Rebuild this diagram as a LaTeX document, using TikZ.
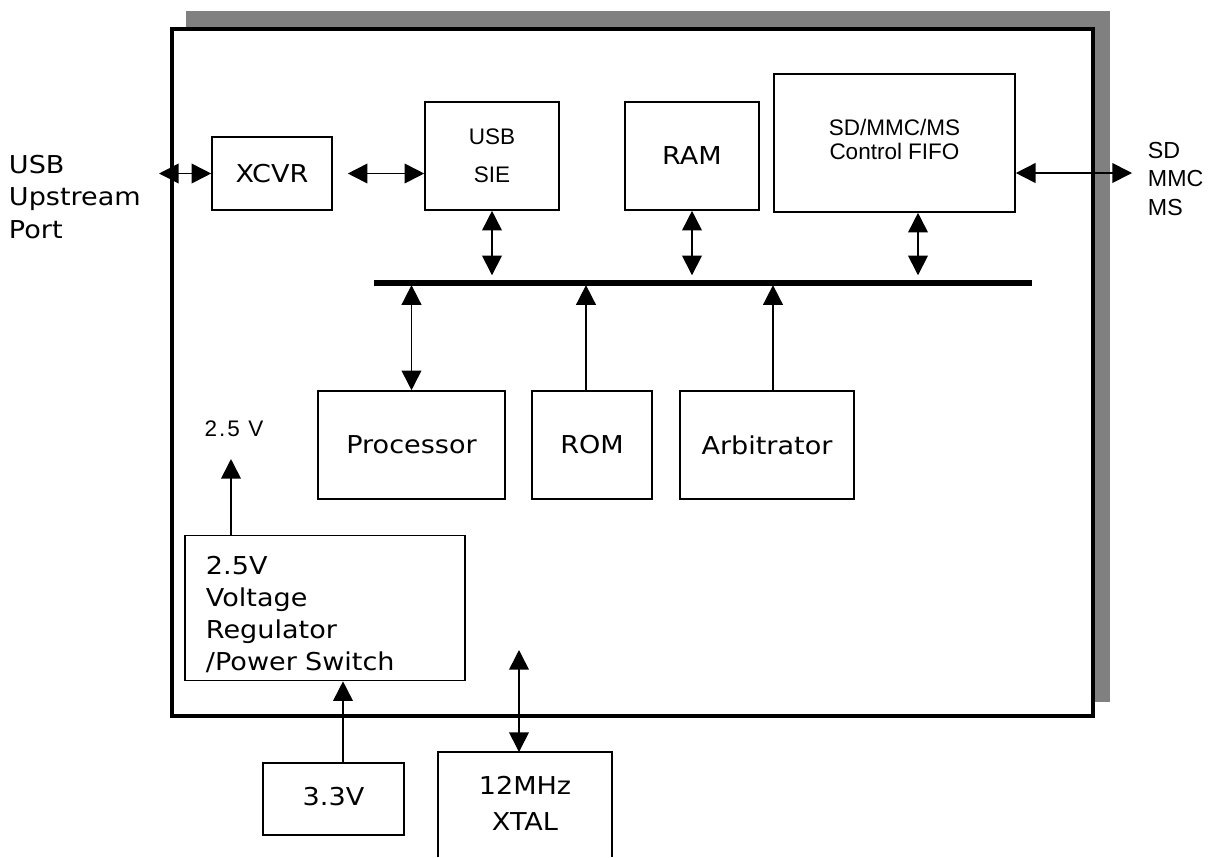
\documentclass[tikz,border=0pt]{standalone}
\usepackage{fontspec}
\usepackage{tikz}
\usetikzlibrary{arrows.meta, positioning, calc}
\newfontfamily\boxfont{DejaVu Sans}[FakeStretch=1.1]
\newfontfamily\labelfont{Liberation Sans}
\newfontfamily\spacedfont{Liberation Sans}[LetterSpace=9]
\definecolor{shadowgray}{RGB}{128,128,128}

\begin{document}
\begin{tikzpicture}[x=0.025cm,y=-0.025cm,
    >={Triangle[width=14pt,length=14pt]},
    block/.style={rectangle,draw,line width=1.1pt,inner sep=0pt,align=center,font=\boxfont\fontsize{17.5}{22.8}\selectfont},
    smallblock/.style={block,font=\labelfont\fontsize{16}{18}\selectfont},
    link/.style={line width=1.2pt}]
    \useasboundingbox (0,0) rectangle (1210,857);

    % Chip outline with shadow
    \fill[shadowgray] (186,11) rectangle (1110,702);
    \node[rectangle,draw,fill=white,line width=2.6pt,minimum width=23.025cm,minimum height=17.175cm] (chip) at (632.5,372.5) {};

    % Top row
    \node[block,minimum width=3.0cm,minimum height=1.825cm] (xcvr) at (272,173.5) {XCVR};
    \node[smallblock,minimum width=3.35cm,minimum height=2.7cm,font=\labelfont\fontsize{16}{27}\selectfont] (sie) at (492,156) {USB\\SIE};
    \node[block,minimum width=3.35cm,minimum height=2.7cm] (ram) at (692,156) {RAM};
    \node[smallblock,minimum width=6.025cm,minimum height=3.45cm,font=\labelfont\fontsize{16}{17.8}\selectfont] (fifo) at (894.5,143) {SD/MMC/MS\\[-1pt]Control FIFO\rule[-5pt]{0pt}{0pt}};

    % Bus
    \coordinate (busL) at (374,283);
    \coordinate (busR) at (1032,283);
    \draw[line width=3.6pt] (busL) -- (busR);

    % Bottom row
    \node[block,minimum width=4.675cm,minimum height=2.7cm] (proc) at (411.5,445) {Processor};
    \node[block,minimum width=3.0cm,minimum height=2.7cm] (rom) at (592,445) {ROM};
    \node[block,minimum width=4.35cm,minimum height=2.7cm] (arb) at (767,445) {Arbitrator};

    % Power
    \node[block,minimum width=7.0cm,minimum height=3.625cm,align=left,text width=5.95cm,inner xsep=0.525cm] (reg) at (325,608) {\rule{0pt}{22.5pt}2.5V\\Voltage\\Regulator\\/Power Switch};
    \node[block,minimum width=3.525cm,minimum height=1.8cm] (v33) at (333.5,799) {3.3V\rule[-4pt]{0pt}{0pt}};
    \node[font=\spacedfont\fontsize{16}{18}\selectfont] (v25) at (234,429) {2.5 V};
    \coordinate (vtip) at (231,459);

    % Crystal
    \node[align=center,font=\boxfont\fontsize{17.5}{25.6}\selectfont] (xtal) at (525,803) {12MHz\\XTAL};
    \draw[line width=1.1pt] (438,857) |- (612,752) -- (612,857);
    \coordinate (xtaltop) at (519,752);
    \coordinate (clk) at (519,650);

    % Outside labels
    \node[anchor=west,align=left,font=\boxfont\fontsize{17.5}{22.8}\selectfont] (usbport) at (4,197) {USB\\Upstream\\Port};
    \node[anchor=west,align=left,font=\labelfont\fontsize{16.5}{20}\selectfont] (sdport) at (1143,179) {SD\\MMC\\MS};
    \coordinate (usbtip) at (159,173.5);
    \coordinate (sdtip) at (1132,173);

    % Connector end points off centre
    \coordinate (fifobus) at ($(fifo.south)+(23.5,0)$);
    \coordinate (rombus) at ($(rom.north)+(-6,0)$);
    \coordinate (arbbus) at ($(arb.north)+(6,0)$);
    \coordinate (v33out) at ($(v33.north)+(9.5,0)$);

    % Connectors
    \draw[link,<->] (usbtip) -- (xcvr.west);
    \draw[link,<->] ($(xcvr.east)+(15,0)$) -- (sie.west |- xcvr.east);
    \draw[link,<->] (fifo.east |- sdtip) -- (sdtip);
    \draw[link,<->,shorten >=5.5pt] (sie.south) -- (sie.south |- busL);
    \draw[link,<->,shorten >=5.5pt] (ram.south) -- (ram.south |- busL);
    \draw[link,<->,shorten >=5.5pt] (fifobus) -- (fifobus |- busL);
    \draw[link,<->,shorten >=1.5pt] (proc.north) -- (proc.north |- busL);
    \draw[link,->,shorten >=1.5pt] (rombus) -- (rombus |- busL);
    \draw[link,->,shorten >=1.5pt] (arbbus) -- (arbbus |- busL);
    \draw[link,->] (reg.north -| vtip) -- (vtip);
    \draw[link,->] (v33out) -- (v33out |- reg.south);
    \draw[link,<->] (clk) -- (xtaltop);
\end{tikzpicture}
\end{document}
